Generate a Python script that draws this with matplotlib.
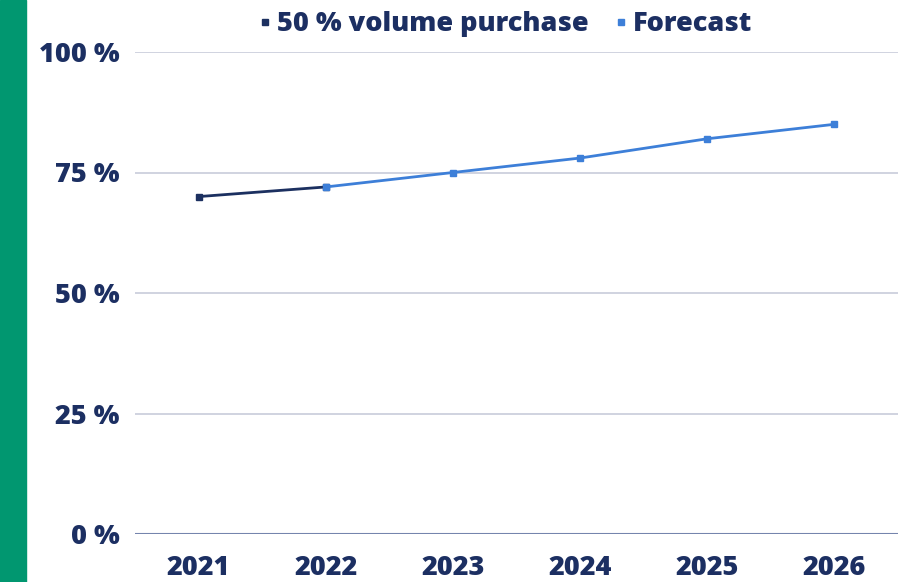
import matplotlib
matplotlib.use('Agg')
import matplotlib.pyplot as plt
from matplotlib.lines import Line2D
from matplotlib.patches import Rectangle

years = ['2021', '2022', '2023', '2024', '2025', '2026']
actual = [70, 72]
forecast = [72, 75, 78, 82, 85]
y_ticks = [0, 25, 50, 75, 100]

NAVY = '#1c3060'
BLUE = '#3d7fd8'
TEXT = '#1c2f62'

plt.rcParams['font.family'] = ['Open Sans', 'DejaVu Sans']

fig = plt.figure(figsize=(9.19, 5.82), dpi=100)
ax = fig.add_axes([135 / 919, 48 / 582, 763 / 919, 482 / 582])

# green side bar
fig.patches.append(Rectangle((0, 0), 26 / 919, 1, transform=fig.transFigure,
                             color='#019770', zorder=0))

x = list(range(len(years)))
ax.plot(x[:2], actual, color=NAVY, lw=2, marker='s', ms=4.5, zorder=3)
ax.plot(x[1:], forecast, color=BLUE, lw=2, marker='s', ms=4.5, zorder=3)

ax.set_xlim(-0.5, len(years) - 0.5)
ax.set_ylim(0, 100)
ax.set_xticks(x)
ax.set_xticklabels(years)
ax.set_yticks(y_ticks)
ax.set_yticklabels([f'{v} %' for v in y_ticks])
for lbl in ax.get_xticklabels() + ax.get_yticklabels():
    lbl.set_fontsize(19.5)
    lbl.set_fontweight(800)
    lbl.set_color(TEXT)
ax.tick_params(length=0)
ax.tick_params(axis='x', pad=15)
ax.tick_params(axis='y', pad=11)

for v in y_ticks[1:]:
    ax.axhline(v, color='#c8ccda', lw=1.2, zorder=1)
ax.axhline(0, color='#7585ad', lw=1.5, zorder=2)
for s in ax.spines.values():
    s.set_visible(False)

handles = [Line2D([], [], ls='none', marker='s', ms=4.5, color=NAVY),
           Line2D([], [], ls='none', marker='s', ms=4.5, color=BLUE)]
leg = fig.legend(handles, ['50 % volume purchase', 'Forecast'], loc='center',
                 bbox_to_anchor=(506 / 919, 1 - 24 / 582), ncol=2, frameon=False,
                 handlelength=0.4, handletextpad=0.25, columnspacing=1.0,
                 prop={'size': 19.5, 'weight': 800})
for t in leg.get_texts():
    t.set_color(TEXT)

fig.savefig('out.png', dpi=100)
